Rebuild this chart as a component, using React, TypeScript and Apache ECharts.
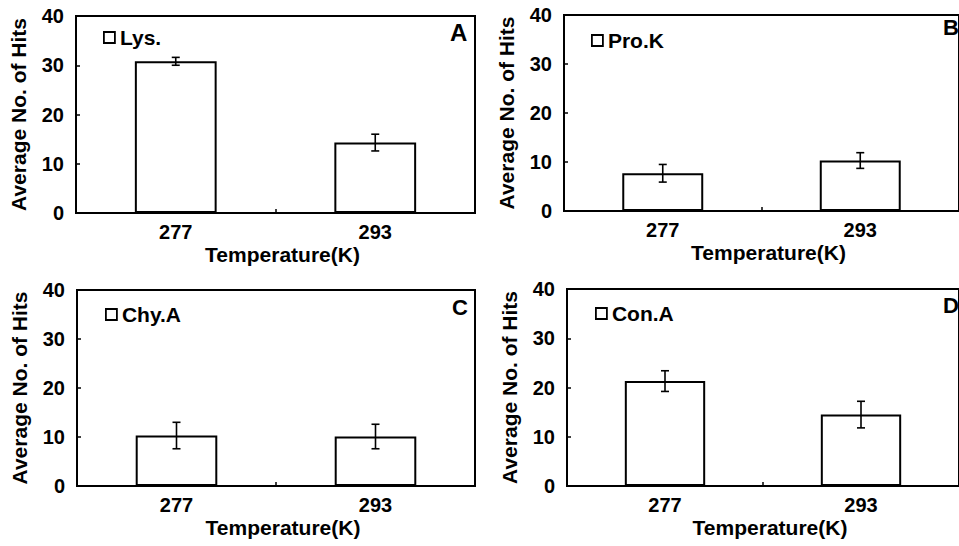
import React, { useEffect, useRef } from "react";
import * as echarts from "echarts";

const categories = ["277", "293"];
const panelNames = ["Lys.", "Pro.K", "Chy.A", "Con.A"];
const panelLetters = ["A", "B", "C", "D"];
const lysValues = [30.8, 14.3];
const lysErrors = [0.8, 1.7];
const proValues = [7.7, 10.3];
const proErrors = [1.8, 1.6];
const chyValues = [10.3, 10.1];
const chyErrors = [2.7, 2.5];
const conValues = [21.3, 14.5];
const conErrors = [2.1, 2.7];
const yMin = 0;
const yMax = 40;
const yInterval = 10;
const xTitle = "Temperature(K)";
const yTitle = "Average No. of Hits";

const FONT = "'Liberation Sans', Arial, Helvetica, sans-serif";

export default function App() {
  const ref = useRef<HTMLDivElement>(null);
  useEffect(() => {
    if (!ref.current) return;
    const chart = echarts.init(ref.current, null, { renderer: "svg" });
    const values = [lysValues, proValues, chyValues, conValues];
    const errors = [lysErrors, proErrors, chyErrors, conErrors];
    const grids = [
      { left: 76, right: 484, top: 16, bottom: 333 },
      { left: 564, right: -5, top: 15, bottom: 335 },
      { left: 77, right: 484, top: 290, bottom: 60 },
      { left: 567, right: -8, top: 289, bottom: 60 },
    ];
    const legendPos = [
      { left: 103, top: 27 },
      { left: 591, top: 30 },
      { left: 105, top: 304 },
      { left: 595, top: 303 },
    ];
    const letterPos = [
      [450, 32.5, 24],
      [943, 27, 22],
      [452, 307, 22],
      [943, 305.5, 22],
    ];
    const textBase = { color: "#000", fontWeight: "bold", fontFamily: FONT };
    const option: any = {
      animation: false,
      backgroundColor: "#fff",
      grid: grids.map((g) => ({
        ...g,
        show: true,
        borderColor: "#000",
        borderWidth: 2,
        backgroundColor: "transparent",
        containLabel: false,
      })),
      legend: panelNames.map((n, i) => ({
        data: [{ name: n, icon: "rect" }],
        left: legendPos[i].left,
        top: legendPos[i].top,
        padding: 0,
        itemWidth: 11,
        itemHeight: 11,
        selectedMode: false,
        itemStyle: { color: "#fff", borderColor: "#000", borderWidth: 1.8 },
        textStyle: { ...textBase, fontSize: 21 },
      })),
      xAxis: panelNames.map((_, i) => ({
        type: "category",
        gridIndex: i,
        data: categories,
        boundaryGap: true,
        name: xTitle,
        nameLocation: "middle",
        nameGap: 31,
        nameTextStyle: { ...textBase, fontSize: 21, padding: [0, 0, 0, 14] },
        axisLine: { show: true, lineStyle: { color: "#000", width: 2 } },
        axisTick: { show: true, inside: true, length: 4, lineStyle: { color: "#000", width: 1.5 } },
        axisLabel: { ...textBase, fontSize: 20, margin: 9 },
        splitLine: { show: false },
      })),
      yAxis: panelNames.map((_, i) => ({
        type: "value",
        gridIndex: i,
        min: yMin,
        max: yMax,
        interval: yInterval,
        name: yTitle,
        nameLocation: "middle",
        nameRotate: 90,
        nameGap: 47,
        nameTextStyle: { ...textBase, fontSize: 21 },
        axisLine: { show: true, lineStyle: { color: "#000", width: 2 } },
        axisTick: { show: true, inside: true, length: 4, lineStyle: { color: "#000", width: 1.5 } },
        axisLabel: { ...textBase, fontSize: 20, margin: 12 },
        splitLine: { show: false },
      })),
      series: [
        ...panelNames.map((n, i) => ({
          type: "bar",
          name: n,
          xAxisIndex: i,
          yAxisIndex: i,
          data: values[i],
          barWidth: "41%",
          itemStyle: { color: "#fff", borderColor: "#000", borderWidth: 2 },
          z: 2,
        })),
        ...panelNames.map((n, i) => ({
          type: "custom",
          name: n + " error",
          xAxisIndex: i,
          yAxisIndex: i,
          z: 5,
          encode: { x: 0, y: 1 },
          data: categories.map((_, j) => [j, values[i][j], errors[i][j]]),
          renderItem: (params: any, api: any) => {
            const x = api.value(0);
            const v = api.value(1);
            const e = api.value(2);
            const top = api.coord([x, v + e]);
            const bot = api.coord([x, v - e]);
            const hw = 4;
            const style = { stroke: "#000", lineWidth: 1.6 };
            return {
              type: "group",
              children: [
                { type: "line", shape: { x1: top[0], y1: top[1], x2: bot[0], y2: bot[1] }, style },
                { type: "line", shape: { x1: top[0] - hw, y1: top[1], x2: top[0] + hw, y2: top[1] }, style },
                { type: "line", shape: { x1: bot[0] - hw, y1: bot[1], x2: bot[0] + hw, y2: bot[1] }, style },
              ],
            };
          },
        })),
      ],
      graphic: panelLetters.map((l, i) => ({
        type: "text",
        x: letterPos[i][0],
        y: letterPos[i][1],
        style: {
          text: l,
          fill: "#000",
          font: `bold ${letterPos[i][2]}px ${FONT}`,
          textAlign: "left",
          textVerticalAlign: "middle",
        },
        z: 10,
      })),
    };
    chart.setOption(option);
    return () => chart.dispose();
  }, []);
  return (
    <div
      ref={ref}
      style={{ position: "fixed", left: 0, top: 0, width: 959, height: 546, background: "#fff" }}
    />
  );
}
